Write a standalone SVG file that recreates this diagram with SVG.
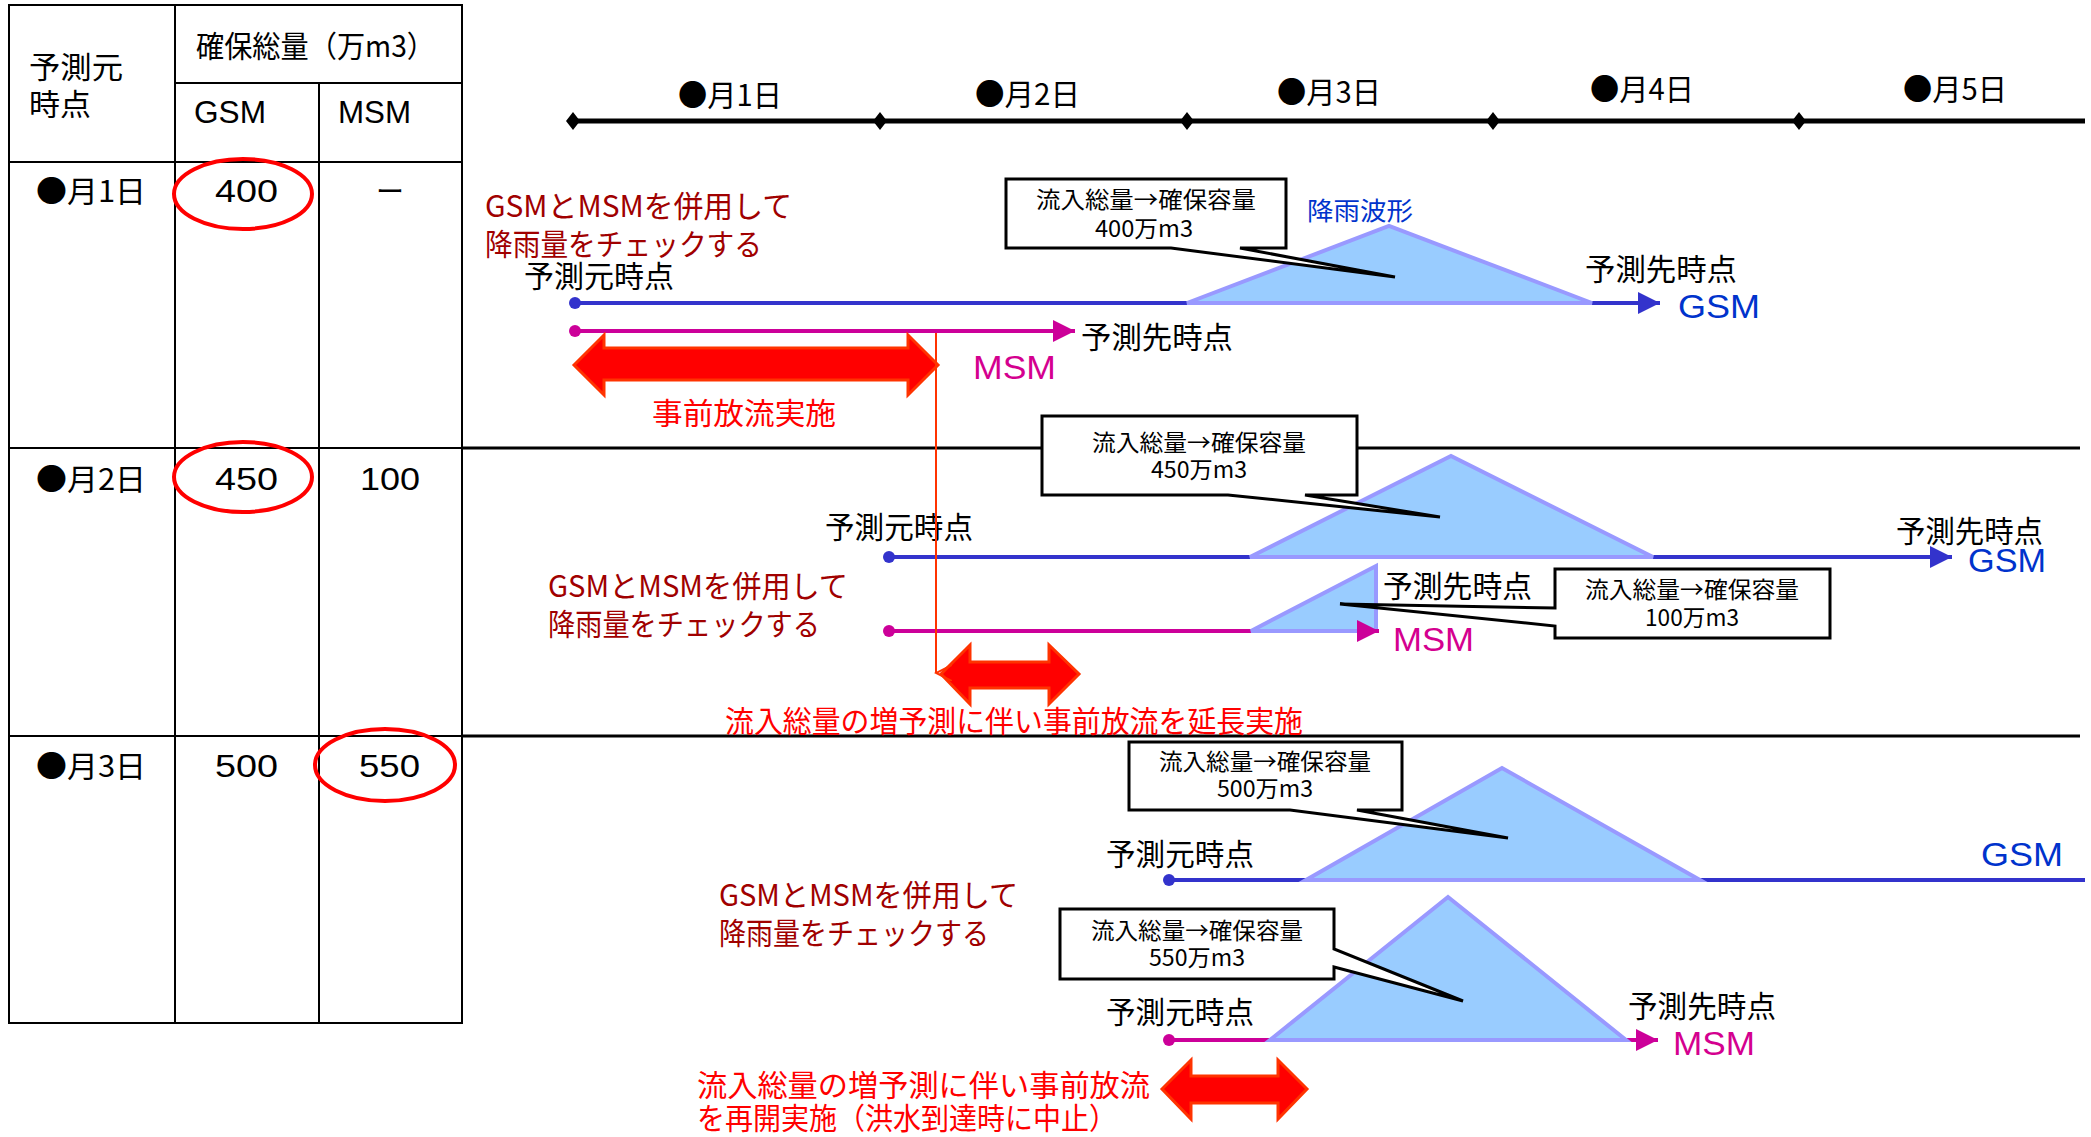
<svg xmlns="http://www.w3.org/2000/svg" width="2091" height="1137" viewBox="0 0 2091 1137">
<style>
text{font-family:"Noto Sans CJK JP","Liberation Sans",sans-serif;}
.t{font-size:30px;fill:#000;}
.tl{font-family:"Liberation Sans","Noto Sans CJK JP",sans-serif;font-size:31px;fill:#000;}
.dr{font-size:30px;fill:#A00000;}
.rd{font-size:30px;fill:#FF0000;}
.bl{font-family:"Liberation Sans","Noto Sans CJK JP",sans-serif;font-size:34px;fill:#0033CC;}
.mg{font-family:"Liberation Sans","Noto Sans CJK JP",sans-serif;font-size:34px;fill:#D4008F;}
.cb{font-size:23px;fill:#000;}
.grid{stroke:#000;stroke-width:2;fill:none;}
.sep{stroke:#000;stroke-width:3;fill:none;}
.ov{fill:none;stroke:#FF0000;stroke-width:4;}
.tri{fill:#99CCFF;stroke:#9999FF;stroke-width:4;stroke-linejoin:miter;}
.call{fill:#fff;stroke:#000;stroke-width:3;stroke-linejoin:miter;}
.big{fill:#FF0000;stroke:#FF3300;stroke-width:3;}
.gl{stroke:#3333CC;stroke-width:4;fill:none;}
.ml{stroke:#CC0099;stroke-width:4;fill:none;}
</style>
<defs>
<marker id="ab" markerUnits="userSpaceOnUse" markerWidth="24" markerHeight="24" refX="22" refY="11" orient="auto"><path d="M0,0 L22,11 L0,22 Z" fill="#3333CC"/></marker>
<marker id="am" markerUnits="userSpaceOnUse" markerWidth="24" markerHeight="24" refX="22" refY="11" orient="auto"><path d="M0,0 L22,11 L0,22 Z" fill="#CC0099"/></marker>
<marker id="ar" markerUnits="userSpaceOnUse" markerWidth="16" markerHeight="18" refX="8" refY="16" orient="auto"><path d="M0,0 L8,16 L16,0" fill="none" stroke="#FF3300" stroke-width="2"/></marker>
</defs>
<rect width="2091" height="1137" fill="#fff"/>

<g id="table">
<rect class="grid" x="9" y="5" width="453" height="1018"/>
<line class="grid" x1="175" y1="5" x2="175" y2="1023"/>
<line class="grid" x1="319" y1="83" x2="319" y2="1023"/>
<line class="grid" x1="175" y1="83" x2="462" y2="83"/>
<line class="grid" x1="9" y1="162" x2="462" y2="162"/>
<line class="grid" x1="9" y1="448" x2="462" y2="448"/>
<line class="grid" x1="9" y1="736" x2="462" y2="736"/>
<text class="t" x="29" y="78" textLength="94" lengthAdjust="spacingAndGlyphs">予測元</text>
<text class="t" x="29" y="115" textLength="62" lengthAdjust="spacingAndGlyphs">時点</text>
<text class="t" x="196" y="57" textLength="239" lengthAdjust="spacingAndGlyphs">確保総量（万m3）</text>
<text class="tl" x="194" y="123" textLength="72" lengthAdjust="spacingAndGlyphs">GSM</text>
<text class="tl" x="338" y="123" textLength="73" lengthAdjust="spacingAndGlyphs">MSM</text>
<text class="t" x="36" y="202" textLength="110" lengthAdjust="spacingAndGlyphs">●月1日</text>
<text class="tl" x="215" y="202" textLength="63" lengthAdjust="spacingAndGlyphs">400</text>
<text class="t" x="376" y="202" textLength="28" lengthAdjust="spacingAndGlyphs">ー</text>
<ellipse class="ov" cx="243" cy="194" rx="69" ry="35"/>
<text class="t" x="36" y="490" textLength="110" lengthAdjust="spacingAndGlyphs">●月2日</text>
<text class="tl" x="215" y="490" textLength="63" lengthAdjust="spacingAndGlyphs">450</text>
<text class="tl" x="360" y="490" textLength="60" lengthAdjust="spacingAndGlyphs">100</text>
<ellipse class="ov" cx="243" cy="477" rx="69" ry="35"/>
<text class="t" x="36" y="777" textLength="110" lengthAdjust="spacingAndGlyphs">●月3日</text>
<text class="tl" x="215" y="777" textLength="63" lengthAdjust="spacingAndGlyphs">500</text>
<text class="tl" x="359" y="777" textLength="61" lengthAdjust="spacingAndGlyphs">550</text>
<ellipse class="ov" cx="385" cy="765" rx="70" ry="36"/>
</g>

<g id="timeline">
<line x1="573" y1="121" x2="2085" y2="121" stroke="#000" stroke-width="5"/>
<path d="M573,112 L580,121 L573,130 L566,121 Z M880,112 L887,121 L880,130 L873,121 Z M1187,112 L1194,121 L1187,130 L1180,121 Z M1493,112 L1500,121 L1493,130 L1486,121 Z M1799,112 L1806,121 L1799,130 L1792,121 Z" fill="#000"/>
<text class="t" x="678" y="106" textLength="104" lengthAdjust="spacingAndGlyphs">●月1日</text>
<text class="t" x="975" y="105" textLength="105" lengthAdjust="spacingAndGlyphs">●月2日</text>
<text class="t" x="1277" y="103" textLength="104" lengthAdjust="spacingAndGlyphs">●月3日</text>
<text class="t" x="1590" y="100" textLength="104" lengthAdjust="spacingAndGlyphs">●月4日</text>
<text class="t" x="1903" y="100" textLength="104" lengthAdjust="spacingAndGlyphs">●月5日</text>
</g>

<g id="separators">
<line class="sep" x1="462" y1="448" x2="2080" y2="448"/>
<line class="sep" x1="462" y1="736" x2="2080" y2="736"/>
</g>

<g id="connectors">
<line class="gl" x1="575" y1="303" x2="1660" y2="303" marker-end="url(#ab)"/>
<line class="ml" x1="575" y1="331" x2="1075" y2="331" marker-end="url(#am)"/>
<line class="gl" x1="889" y1="557" x2="1952" y2="557" marker-end="url(#ab)"/>
<line class="ml" x1="889" y1="631" x2="1379" y2="631"/>
<line class="gl" x1="1169" y1="880" x2="2085" y2="880"/>
<line class="ml" x1="1169" y1="1040" x2="1658" y2="1040" marker-end="url(#am)"/>
<circle cx="575" cy="303" r="6" fill="#3333CC"/>
<circle cx="575" cy="331" r="6" fill="#CC0099"/>
<circle cx="889" cy="557" r="6" fill="#3333CC"/>
<circle cx="889" cy="631" r="6" fill="#CC0099"/>
<circle cx="1169" cy="880" r="6" fill="#3333CC"/>
<circle cx="1169" cy="1040" r="6" fill="#CC0099"/>
</g>

<g id="rain1">
<polygon class="tri" points="1187,303 1389,226 1592,303"/>
<text x="1307" y="220" font-size="25" fill="#0033CC" textLength="106" lengthAdjust="spacingAndGlyphs">降雨波形</text>
</g>
<g id="rain2">
<polygon class="tri" points="1250,557 1451,456 1653,557"/>
<polygon class="tri" points="1251,631 1376,566 1376,631"/>
<line class="ml" x1="1370" y1="631" x2="1379" y2="631" marker-end="url(#am)"/>
</g>
<g id="rain3">
<polygon class="tri" points="1306,880 1502,768 1700,880"/>
<polygon class="tri" points="1270,1040 1448,897 1626,1040"/>
</g>

<g id="callout-400">
<path class="call" d="M1006,179 H1286 V248 H1240 L1395,277 L1171,248 H1006 Z"/>
<text class="cb" x="1146" y="208" text-anchor="middle" textLength="220" lengthAdjust="spacingAndGlyphs">流入総量→確保容量</text>
<text class="cb" x="1144" y="237" text-anchor="middle" textLength="98" lengthAdjust="spacingAndGlyphs">400万m3</text>
</g>
<g id="callout-450">
<path class="call" d="M1042,416 H1357 V495 H1305 L1440,517 L1228,495 H1042 Z"/>
<text class="cb" x="1199" y="451" text-anchor="middle" textLength="214" lengthAdjust="spacingAndGlyphs">流入総量→確保容量</text>
<text class="cb" x="1199" y="478" text-anchor="middle" textLength="96" lengthAdjust="spacingAndGlyphs">450万m3</text>
</g>
<g id="callout-100">
<path class="call" d="M1555,569 H1830 V638 H1555 V626 L1340,604 L1555,608 Z"/>
<text class="cb" x="1692" y="598" text-anchor="middle" textLength="214" lengthAdjust="spacingAndGlyphs">流入総量→確保容量</text>
<text class="cb" x="1692" y="626" text-anchor="middle" textLength="94" lengthAdjust="spacingAndGlyphs">100万m3</text>
</g>
<g id="callout-500">
<path class="call" d="M1129,742 H1402 V810 H1357 L1508,838 L1290,810 H1129 Z"/>
<text class="cb" x="1265" y="770" text-anchor="middle" textLength="212" lengthAdjust="spacingAndGlyphs">流入総量→確保容量</text>
<text class="cb" x="1265" y="797" text-anchor="middle" textLength="96" lengthAdjust="spacingAndGlyphs">500万m3</text>
</g>
<g id="callout-550">
<path class="call" d="M1060,909 H1334 V949 L1463,1001 L1334,967 V979 H1060 Z"/>
<text class="cb" x="1197" y="939" text-anchor="middle" textLength="212" lengthAdjust="spacingAndGlyphs">流入総量→確保容量</text>
<text class="cb" x="1197" y="966" text-anchor="middle" textLength="96" lengthAdjust="spacingAndGlyphs">550万m3</text>
</g>

<g id="labels-row1">
<text class="dr" x="485" y="217" textLength="307" lengthAdjust="spacingAndGlyphs">GSMとMSMを併用して</text>
<text class="dr" x="485" y="255" textLength="277" lengthAdjust="spacingAndGlyphs">降雨量をチェックする</text>
<text class="t" x="524" y="287" textLength="150" lengthAdjust="spacingAndGlyphs">予測元時点</text>
<text class="t" x="1585" y="280" textLength="152" lengthAdjust="spacingAndGlyphs">予測先時点</text>
<text class="bl" x="1678" y="318" textLength="82" lengthAdjust="spacingAndGlyphs">GSM</text>
<text class="t" x="1081" y="348" textLength="152" lengthAdjust="spacingAndGlyphs">予測先時点</text>
<text class="mg" x="973" y="379" textLength="83" lengthAdjust="spacingAndGlyphs">MSM</text>
<text class="rd" x="652" y="424" textLength="184" lengthAdjust="spacingAndGlyphs">事前放流実施</text>
</g>
<g id="labels-row2">
<text class="t" x="825" y="538" textLength="148" lengthAdjust="spacingAndGlyphs">予測元時点</text>
<text class="dr" x="548" y="597" textLength="300" lengthAdjust="spacingAndGlyphs">GSMとMSMを併用して</text>
<text class="dr" x="548" y="635" textLength="272" lengthAdjust="spacingAndGlyphs">降雨量をチェックする</text>
<text class="t" x="1896" y="542" textLength="147" lengthAdjust="spacingAndGlyphs">予測先時点</text>
<text class="bl" x="1968" y="572" textLength="78" lengthAdjust="spacingAndGlyphs">GSM</text>
<text class="t" x="1383" y="597" textLength="149" lengthAdjust="spacingAndGlyphs">予測先時点</text>
<text class="mg" x="1393" y="651" textLength="81" lengthAdjust="spacingAndGlyphs">MSM</text>
<text class="rd" x="725" y="732" textLength="578" lengthAdjust="spacingAndGlyphs">流入総量の増予測に伴い事前放流を延長実施</text>
</g>
<g id="labels-row3">
<text class="t" x="1106" y="865" textLength="148" lengthAdjust="spacingAndGlyphs">予測元時点</text>
<text class="bl" x="1981" y="866" textLength="82" lengthAdjust="spacingAndGlyphs">GSM</text>
<text class="dr" x="719" y="906" textLength="299" lengthAdjust="spacingAndGlyphs">GSMとMSMを併用して</text>
<text class="dr" x="719" y="944" textLength="270" lengthAdjust="spacingAndGlyphs">降雨量をチェックする</text>
<text class="t" x="1106" y="1023" textLength="148" lengthAdjust="spacingAndGlyphs">予測元時点</text>
<text class="t" x="1628" y="1017" textLength="148" lengthAdjust="spacingAndGlyphs">予測先時点</text>
<text class="mg" x="1673" y="1055" textLength="82" lengthAdjust="spacingAndGlyphs">MSM</text>
<text class="rd" x="697" y="1096" textLength="453" lengthAdjust="spacingAndGlyphs">流入総量の増予測に伴い事前放流</text>
<text class="rd" x="697" y="1129" textLength="420" lengthAdjust="spacingAndGlyphs">を再開実施（洪水到達時に中止）</text>
</g>

<g id="release-arrows">
<polygon class="big" points="574,365 604,335 604,348 908,348 908,335 938,365 908,395 908,380 604,380 604,395"/>
<polygon class="big" points="941,674 970,645 970,662 1049,662 1049,645 1079,674 1049,704 1049,688 970,688 970,704"/>
<polygon class="big" points="1162,1089 1191,1060 1191,1076 1278,1076 1278,1060 1307,1089 1278,1119 1278,1103 1191,1103 1191,1119"/>
<line x1="936" y1="333" x2="936" y2="673" stroke="#FF3300" stroke-width="2" marker-end="url(#ar)"/>
</g>
</svg>
